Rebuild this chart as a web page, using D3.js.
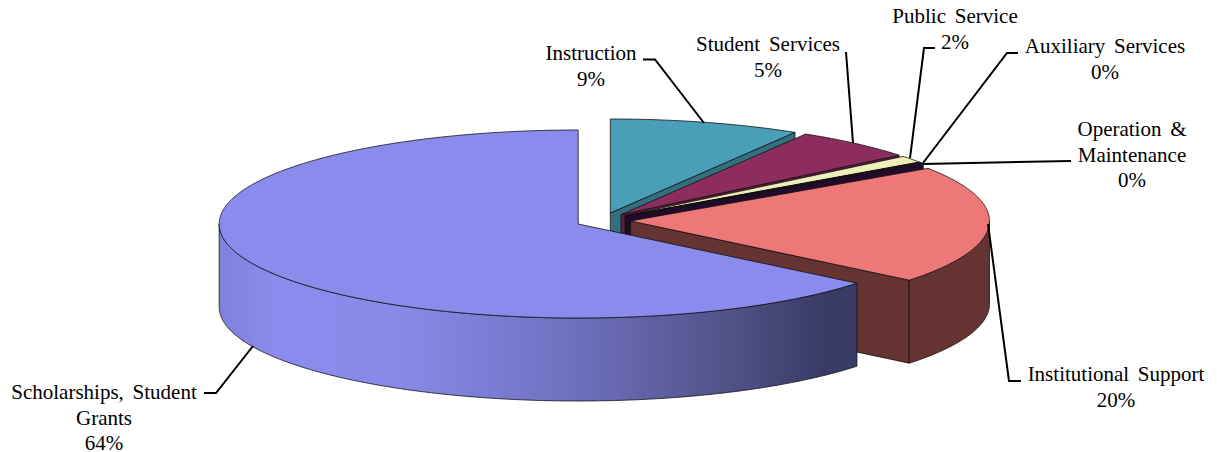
<!DOCTYPE html>
<html><head><meta charset="utf-8">
<script src="https://cdn.jsdelivr.net/npm/d3@7"></script>
<style>html,body{margin:0;background:#fff}svg{display:block}text{font-family:"Liberation Serif","Times New Roman",serif;font-size:21px;fill:#000;word-spacing:3.5px}</style>
</head><body><svg id="c" width="1217" height="452"></svg>
<script>
const categories=["Instruction","Student Services","Public Service","Auxiliary Services","Operation & Maintenance","Institutional Support","Scholarships, Student Grants"];
const values=[8.6,5.5,1.2,0.05,0.2,20.3,64.15];
const percentLabels=["9%","5%","2%","0%","0%","20%","64%"];
const labelLines=[["Instruction"],["Student Services"],["Public Service"],["Auxiliary Services"],["Operation &","Maintenance"],["Institutional Support"],["Scholarships, Student","Grants"]];
const topColors=["#4a9fb8","#8c2d5e","#eeeebb","#1f0a33","#33103f","#ee7777","#8b8bee"];
const wallColors=["#33707f","#5c1d3e","#a0a07c","#120620","#220a2a","#663333","url(#blueWall)"];
// layout
const rx=359,ry=94,depth=83,cx=603,cy=220.6,ex=27.5,ey=7.9;
const labelPos=[[591,60],[768,51],[955,23],[1105,53],[1132,136],[1116,381],[104,399]];
const leaders=[
 [[643,59.5],[655,59.5],[704,123]],
 [[846,52],[853,143]],
 [[935,48],[924,48],[910,158]],
 [[1018,53],[1007,53],[923,163]],
 [[1071,161],[923,164]],
 [[1021,381],[1009,381],[988,224]],
 [[204,393],[216,393],[253,346]]];

const svg=d3.select("#c");
const grad=svg.append("defs").append("linearGradient").attr("id","blueWall")
 .attr("gradientUnits","userSpaceOnUse").attr("x1",219).attr("x2",855).attr("y1",0).attr("y2",0);
[[0,"#8080dc"],[.1,"#8b8cee"],[.3,"#8788e6"],[.55,"#7071c0"],[.8,"#515288"],[.95,"#3a3b66"],[1,"#3a3b66"]]
 .forEach(([o,c])=>grad.append("stop").attr("offset",o).attr("stop-color",c));

const arcs=d3.pie().sort(null).value(d=>d)(values);
const line=d3.line();
const deg=Math.PI/180;
const sampled=(a,b)=>{const n=Math.max(2,Math.ceil((b-a)/(0.5*deg)));return d3.range(n+1).map(i=>a+(b-a)*i/n);};
const g=svg.append("g");
arcs.forEach((d,i)=>{
 const mid=(d.startAngle+d.endAngle)/2;
 const ox=cx+ex*Math.sin(mid), oy=cy-ey*Math.cos(mid);
 const P=(a,dz=0)=>[ox+rx*Math.sin(a),oy-ry*Math.cos(a)+dz];
 const apex=[ox,oy];
 const apexB=[ox,oy+depth];
 const s=g.append("g").attr("stroke","#111").attr("stroke-width",0.8).attr("stroke-linejoin","round");
 // radial walls facing the viewer
 if(Math.sin(d.endAngle)>1e-6) s.append("path").attr("fill",i==6?"#3a3b66":wallColors[i])
   .attr("d",line([apex,P(d.endAngle),P(d.endAngle,depth),apexB])+"Z");
 if(Math.sin(d.startAngle)<-1e-6) s.append("path").attr("fill",wallColors[i])
   .attr("d",line([apex,P(d.startAngle),P(d.startAngle,depth),apexB])+"Z");
 // outer wall on the front half
 const a0=Math.max(d.startAngle,Math.PI/2),a1=Math.min(d.endAngle,3*Math.PI/2);
 if(a1>a0){
  const angs=sampled(a0,a1);
  const pts=angs.map(a=>P(a)).concat(angs.slice().reverse().map(a=>P(a,depth)));
  s.append("path").attr("fill",wallColors[i]).attr("d",line(pts)+"Z");
 }
 // top face
 s.append("path").attr("fill",topColors[i])
  .attr("d",line([apex,...sampled(d.startAngle,d.endAngle).map(a=>P(a))])+"Z");
});
// leaders
svg.append("g").selectAll("path").data(leaders).join("path")
 .attr("d",d=>line(d)).attr("fill","none").attr("stroke","#000").attr("stroke-width",2);
// labels
const t=svg.append("g").selectAll("text").data(categories).join("text")
 .attr("text-anchor","middle")
 .attr("transform",(d,i)=>`translate(${labelPos[i][0]},${labelPos[i][1]})`);
t.each(function(d,i){
 const el=d3.select(this);
 labelLines[i].concat(percentLabels[i]).forEach((l,k)=>{
  el.append("tspan").attr("x",0).attr("y",k*25.7).text(l);
 });
});
</script></body></html>
